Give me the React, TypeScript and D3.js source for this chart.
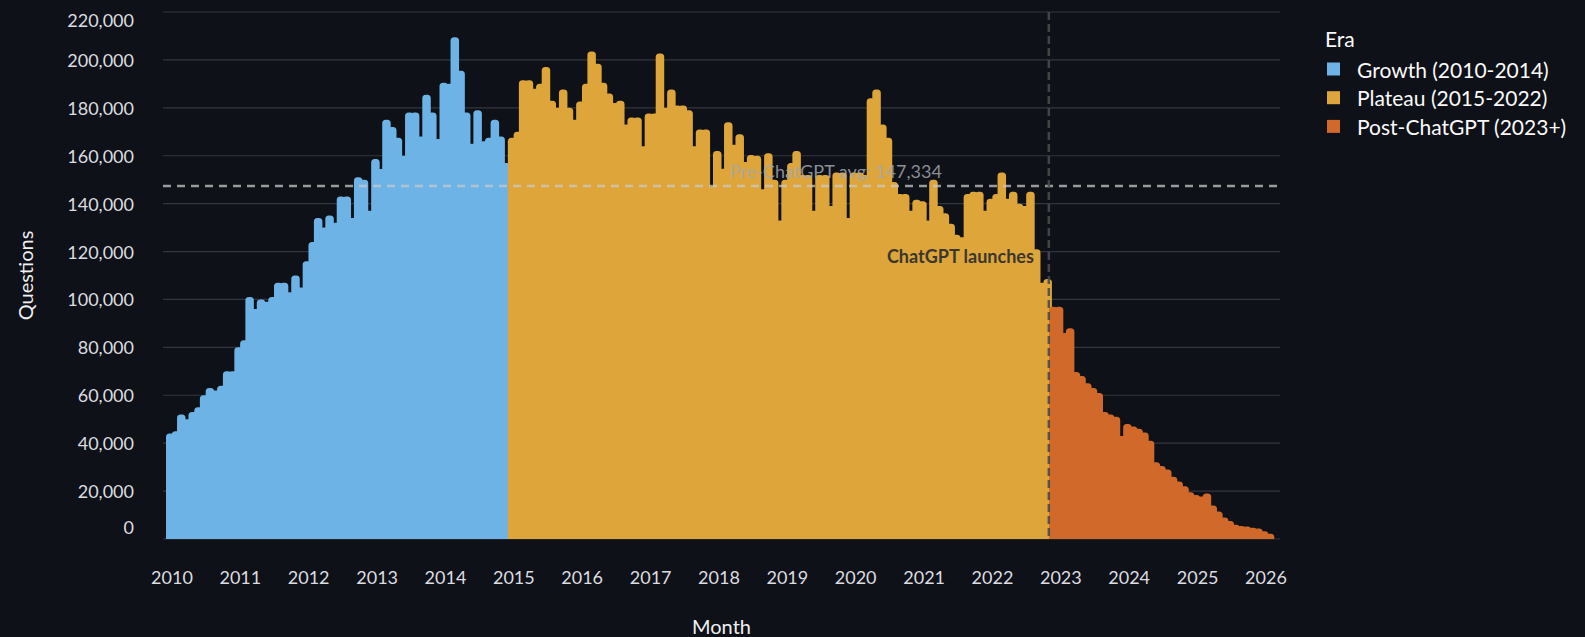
import React from "react";
import * as d3 from "d3";

const W = 1585;
const H = 637;

// Monthly question counts (Jan..Dec)
const Q2010 = [44000, 45000, 52000, 50000, 53000, 55000, 60000, 63000, 62000, 64000, 70000, 70000];
const Q2011 = [80000, 83000, 101000, 96000, 100000, 99000, 101000, 107000, 107000, 103000, 110000, 105000];
const Q2012 = [116000, 124000, 134000, 130000, 135000, 132000, 143000, 143000, 134000, 151000, 150000, 137000];
const Q2013 = [158600, 154500, 175000, 172000, 167500, 160000, 178000, 178000, 168000, 185500, 178000, 167000];
const Q2014 = [190500, 190000, 209500, 195500, 178000, 165000, 179000, 166000, 167500, 175000, 168000, 157000];
const Q2015 = [167500, 170000, 191500, 191500, 188000, 190000, 197000, 183000, 180000, 187600, 180000, 175000];
const Q2016 = [182600, 190000, 203500, 198400, 190500, 186000, 182000, 183000, 173000, 176000, 176000, 164000];
const Q2017 = [177600, 177600, 202700, 180000, 187600, 181000, 181000, 179000, 164000, 171000, 171000, 147000];
const Q2018 = [162000, 154600, 174000, 164600, 169000, 157400, 160300, 160000, 146000, 161000, 150000, 133000];
const Q2019 = [150000, 157000, 162000, 152000, 152000, 137000, 152000, 152000, 139000, 153000, 153000, 134000];
const Q2020 = [153000, 153000, 152000, 184000, 187600, 173000, 167500, 149000, 144000, 144000, 137000, 141600];
const Q2021 = [141000, 133000, 150000, 139000, 136000, 131600, 127000, 126000, 144000, 145000, 145000, 137000];
const Q2022 = [142000, 144000, 153000, 142000, 145000, 140000, 139000, 145000, 121000, 107000, 108500, 97000];
const Q2023 = [97000, 86000, 88000, 69700, 68000, 65000, 63000, 61000, 53000, 52000, 51000, 43000];
const Q2024 = [48000, 47000, 46000, 44500, 41000, 32000, 30500, 29000, 26000, 24000, 22000, 19500];
const Q2025 = [18400, 17700, 19000, 14000, 11500, 9000, 7500, 6000, 5400, 5200, 4700, 4400];
const Q2026 = [3200, 2200];

const YEARS = [2010, 2011, 2012, 2013, 2014, 2015, 2016, 2017, 2018, 2019, 2020, 2021, 2022, 2023, 2024, 2025, 2026];
const YEAR_VALUES = [Q2010, Q2011, Q2012, Q2013, Q2014, Q2015, Q2016, Q2017, Q2018, Q2019, Q2020, Q2021, Q2022, Q2023, Q2024, Q2025, Q2026];

const ERA_NAMES = ["Growth (2010-2014)", "Plateau (2015-2022)", "Post-ChatGPT (2023+)"];
const ERA_COLORS = ["#6DB3E6", "#DEA63A", "#D0692A"];
const PLATEAU_START = "2015-01-01";
const CHATGPT_LAUNCH = "2022-11-30";

const Y_TICKS = [0, 20000, 40000, 60000, 80000, 100000, 120000, 140000, 160000, 180000, 200000, 220000];
const X_TICK_YEARS = [2010, 2011, 2012, 2013, 2014, 2015, 2016, 2017, 2018, 2019, 2020, 2021, 2022, 2023, 2024, 2025, 2026];

const PRE_CHATGPT_AVG = 147334;
const AVG_LABEL_DATE = "2018-04-01";

type Row = { date: Date; value: number; era: number };

const rows: Row[] = [];
const plateauStart = new Date(PLATEAU_START + "T00:00:00Z");
const launch = new Date(CHATGPT_LAUNCH + "T00:00:00Z");
YEARS.forEach((yr, yi) => {
  YEAR_VALUES[yi].forEach((v, mi) => {
    const date = new Date(Date.UTC(yr, mi, 1));
    const era = date < plateauStart ? 0 : date <= launch ? 1 : 2;
    rows.push({ date, value: v, era });
  });
});

const FONT = "Lato, 'Noto Sans', 'DejaVu Sans', sans-serif";

function barPath(x0: number, x1: number, yTop: number, yBase: number, r: number) {
  const h = yBase - yTop;
  const rr = Math.max(0, Math.min(r, h, (x1 - x0) / 2));
  return `M${x0},${yBase}V${yTop + rr}A${rr},${rr} 0 0 1 ${x0 + rr},${yTop}H${x1 - rr}A${rr},${rr} 0 0 1 ${x1},${yTop + rr}V${yBase}Z`;
}

export default function App() {
  const plotLeft = 163;
  const plotRight = 1280;
  const x = d3
    .scaleUtc()
    .domain([new Date(Date.UTC(2010, 0, 1)), new Date(Date.UTC(2026, 0, 1))])
    .range([166, 1260]);
  const y = d3.scaleLinear().domain([0, 220000]).range([539, 12]);
  const barW = 8.5;
  const labelOffset = 6;
  const fmt = d3.format(",");

  const ruleX = x(launch);
  const avgY = y(PRE_CHATGPT_AVG);

  return (
    <svg
      width={W}
      height={H}
      style={{ position: "absolute", left: 0, top: 0, background: "#0e1117", fontFamily: FONT }}
    >
      <rect x={0} y={0} width={W} height={H} fill="#0e1117" />
      {/* gridlines */}
      {Y_TICKS.map((t) => (
        <line key={"g" + t} x1={plotLeft} x2={plotRight} y1={y(t)} y2={y(t)} stroke="#33363e" strokeWidth={1.2} />
      ))}
      {/* bars */}
      {rows.map((r, i) => {
        const x0 = x(r.date);
        return (
          <path key={"b" + i} d={barPath(x0, x0 + barW, y(r.value), y(0), 3.5)} fill={ERA_COLORS[r.era]} />
        );
      })}
      {/* average line */}
      <line
        x1={plotLeft}
        x2={plotRight}
        y1={avgY}
        y2={avgY}
        stroke="#c8c8c8"
        strokeOpacity={0.75}
        strokeWidth={2.5}
        strokeDasharray="8,6"
      />
      <text
        x={x(new Date(AVG_LABEL_DATE + "T00:00:00Z"))}
        y={avgY - 8}
        fontSize={18}
        fill="#a3a7ad"
        fillOpacity={0.85}
      >
        {"Pre-ChatGPT avg: " + fmt(PRE_CHATGPT_AVG)}
      </text>
      {/* ChatGPT rule */}
      <line
        x1={ruleX}
        x2={ruleX}
        y1={y(220000)}
        y2={y(0)}
        stroke="#4a4a4a"
        strokeOpacity={0.9}
        strokeWidth={2.5}
        strokeDasharray="8,4"
      />
      <text
        x={ruleX - 15}
        y={y(117000)}
        textAnchor="end"
        dominantBaseline="middle"
        fontSize={18}
        fontWeight={700}
        fill="#3b372f"
      >
        ChatGPT launches
      </text>
      {/* y tick labels */}
      {Y_TICKS.map((t, i) => (
        <text
          key={"yt" + t}
          x={134}
          y={i === 0 ? y(t) - 1 : i === Y_TICKS.length - 1 ? y(t) + 1 : y(t)}
          textAnchor="end"
          dominantBaseline={i === 0 ? "text-after-edge" : i === Y_TICKS.length - 1 ? "hanging" : "central"}
          fontSize={18}
          fill="#dcdde0"
        >
          {fmt(t)}
        </text>
      ))}
      {/* x tick labels */}
      {X_TICK_YEARS.map((yr) => (
        <text
          key={"xt" + yr}
          x={x(new Date(Date.UTC(yr, 0, 1))) + labelOffset}
          y={577}
          textAnchor="middle"
          dominantBaseline="central"
          fontSize={18}
          fill="#dcdde0"
        >
          {String(yr)}
        </text>
      ))}
      {/* axis titles */}
      <text
        transform={`translate(25,${(y(0) + y(220000)) / 2}) rotate(-90)`}
        textAnchor="middle"
        dominantBaseline="central"
        fontSize={20}
        fill="#f0f0f2"
      >
        Questions
      </text>
      <text x={(plotLeft + plotRight) / 2} y={626} textAnchor="middle" dominantBaseline="central" fontSize={20} fill="#f0f0f2">
        Month
      </text>
      {/* legend */}
      <text x={1325} y={38} dominantBaseline="central" fontSize={21} fill="#fafafa">
        Era
      </text>
      {ERA_NAMES.map((name, i) => (
        <g key={"lg" + i} transform={`translate(1327,${69 + i * 28.7})`}>
          <rect x={0} y={-6.5} width={13} height={13} fill={ERA_COLORS[i]} />
          <text x={30} y={0} dominantBaseline="central" fontSize={21} fill="#fafafa">
            {name}
          </text>
        </g>
      ))}
    </svg>
  );
}
